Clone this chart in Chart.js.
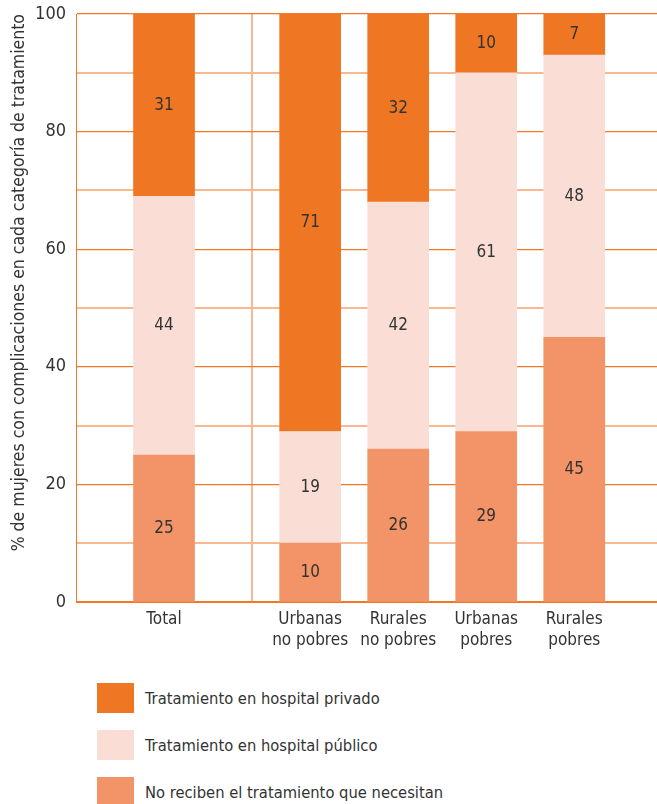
<!DOCTYPE html>
<html lang="es">
<head>
<meta charset="utf-8">
<title>Tratamiento de complicaciones</title>
<script src="https://cdn.jsdelivr.net/npm/chart.js@4"></script>
<style>
    body {
        margin: 0;
        background: #ffffff;
        font-family: "Liberation Sans Narrow", "DejaVu Sans Condensed", Roboto, sans-serif;
        color: #333333;
    }
    #chartBox {
        position: relative;
        width: 657px;
        height: 660px;
    }
    #legend {
        position: absolute;
        left: 97px;
        top: 683px;
    }
    .legend-item {
        display: flex;
        align-items: center;
        height: 30px;
        margin-bottom: 17px;
    }
    .legend-box {
        width: 37px;
        height: 30px;
        margin-right: 11px;
    }
    .legend-text {
        font-size: 16.4px;
    }
</style>
</head>
<body>
<div id="chartBox"><canvas id="treatmentChart"></canvas></div>
<div id="legend"></div>

<script>
const categories = [
    ['Total'],
    ['Urbanas', 'no pobres'],
    ['Rurales', 'no pobres'],
    ['Urbanas', 'pobres'],
    ['Rurales', 'pobres']
];
const noTreatment = [25, 10, 26, 29, 45];
const publicHospital = [44, 19, 42, 61, 48];
const privateHospital = [31, 71, 32, 10, 7];
const yTicks = [0, 20, 40, 60, 80, 100];

// where each group sits on the x axis (Total stands apart behind a divider)
const groupX = [1, 2.66, 3.66, 4.66, 5.66];
const dividerX = 2;

const FONT = '"Liberation Sans Narrow", "DejaVu Sans Condensed", Roboto, sans-serif';
const TEXT = '#333333';
const ORANGE = '#EF7622';
const PINK = '#FADED6';
const SALMON = '#F29467';
const GRID_MAJOR = '#F07828';
const GRID_MINOR = '#F8B990';

function toPoints(values) {
    return values.map((v, i) => ({ x: groupX[i], y: v }));
}

// Writes each segment's value in the middle of the segment
const segmentLabels = {
    id: 'segmentLabels',
    afterDatasetsDraw(chart) {
        const ctx = chart.ctx;
        ctx.save();
        ctx.font = '17px ' + FONT;
        ctx.fillStyle = TEXT;
        ctx.textAlign = 'center';
        ctx.textBaseline = 'middle';
        chart.data.datasets.forEach((ds, di) => {
            chart.getDatasetMeta(di).data.forEach((bar, i) => {
                const mid = (bar.y + bar.base) / 2;
                ctx.fillText(ds.data[i].y, bar.x, mid);
            });
        });
        ctx.restore();
    }
};

const datasets = [
    { label: 'No reciben el tratamiento que necesitan', data: toPoints(noTreatment), backgroundColor: SALMON },
    { label: 'Tratamiento en hospital público', data: toPoints(publicHospital), backgroundColor: PINK },
    { label: 'Tratamiento en hospital privado', data: toPoints(privateHospital), backgroundColor: ORANGE }
];

new Chart(document.getElementById('treatmentChart'), {
    type: 'bar',
    data: { datasets: datasets },
    plugins: [segmentLabels],
    options: {
        responsive: true,
        maintainAspectRatio: false,
        animation: false,
        barThickness: 61,
        layout: { padding: { top: 14, right: 0, bottom: 0, left: 0 } },
        plugins: {
            legend: { display: false },
            tooltip: { enabled: false }
        },
        scales: {
            x: {
                type: 'linear',
                stacked: true,
                offset: false,
                min: 0,
                max: 6.6,
                afterBuildTicks: function(scale) {
                    scale.ticks = [dividerX].concat(groupX).map(v => ({ value: v }));
                },
                afterFit: function(scale) {
                    scale.height = 58;
                },
                grid: {
                    offset: false,
                    drawTicks: false,
                    lineWidth: 2,
                    color: ctx => (ctx.tick && ctx.tick.value === dividerX) ? GRID_MINOR : 'rgba(0,0,0,0)'
                },
                border: { color: GRID_MAJOR, width: 1 },
                ticks: {
                    autoSkip: false,
                    maxRotation: 0,
                    padding: 7,
                    color: TEXT,
                    font: { family: FONT, size: 17, lineHeight: 1.25 },
                    callback: function(value) {
                        const i = groupX.indexOf(value);
                        return i >= 0 ? categories[i] : '';
                    }
                }
            },
            y: {
                stacked: true,
                min: 0,
                max: 100,
                afterBuildTicks: function(scale) {
                    const t = [];
                    for (let v = 0; v <= 100; v += 10) t.push({ value: v });
                    scale.ticks = t;
                },
                afterFit: function(scale) {
                    scale.width = 76;
                    scale.paddingTop = 0;
                    scale.paddingBottom = 0;
                },
                grid: {
                    drawTicks: false,
                    color: ctx => (ctx.tick && ctx.tick.value % 20 === 0) ? GRID_MAJOR : GRID_MINOR,
                    lineWidth: ctx => (ctx.tick && ctx.tick.value % 20 === 0) ? 1.2 : 2
                },
                border: { color: GRID_MAJOR, width: 1 },
                ticks: {
                    padding: 10,
                    color: TEXT,
                    font: { family: FONT, size: 18 },
                    callback: value => yTicks.includes(value) ? value : ''
                },
                title: {
                    display: true,
                    align: 'end',
                    text: '% de mujeres con complicaciones en cada categoría de tratamiento',
                    color: TEXT,
                    font: { family: FONT, size: 17.5 },
                    padding: { top: 9, bottom: 0 }
                }
            }
        }
    }
});

// Legend below the chart, private hospital listed first
const legend = document.getElementById('legend');
[datasets[2], datasets[1], datasets[0]].forEach(ds => {
    const item = document.createElement('div');
    item.className = 'legend-item';
    const box = document.createElement('div');
    box.className = 'legend-box';
    box.style.background = ds.backgroundColor;
    const text = document.createElement('span');
    text.className = 'legend-text';
    text.textContent = ds.label;
    item.appendChild(box);
    item.appendChild(text);
    legend.appendChild(item);
});
</script>
</body>
</html>
